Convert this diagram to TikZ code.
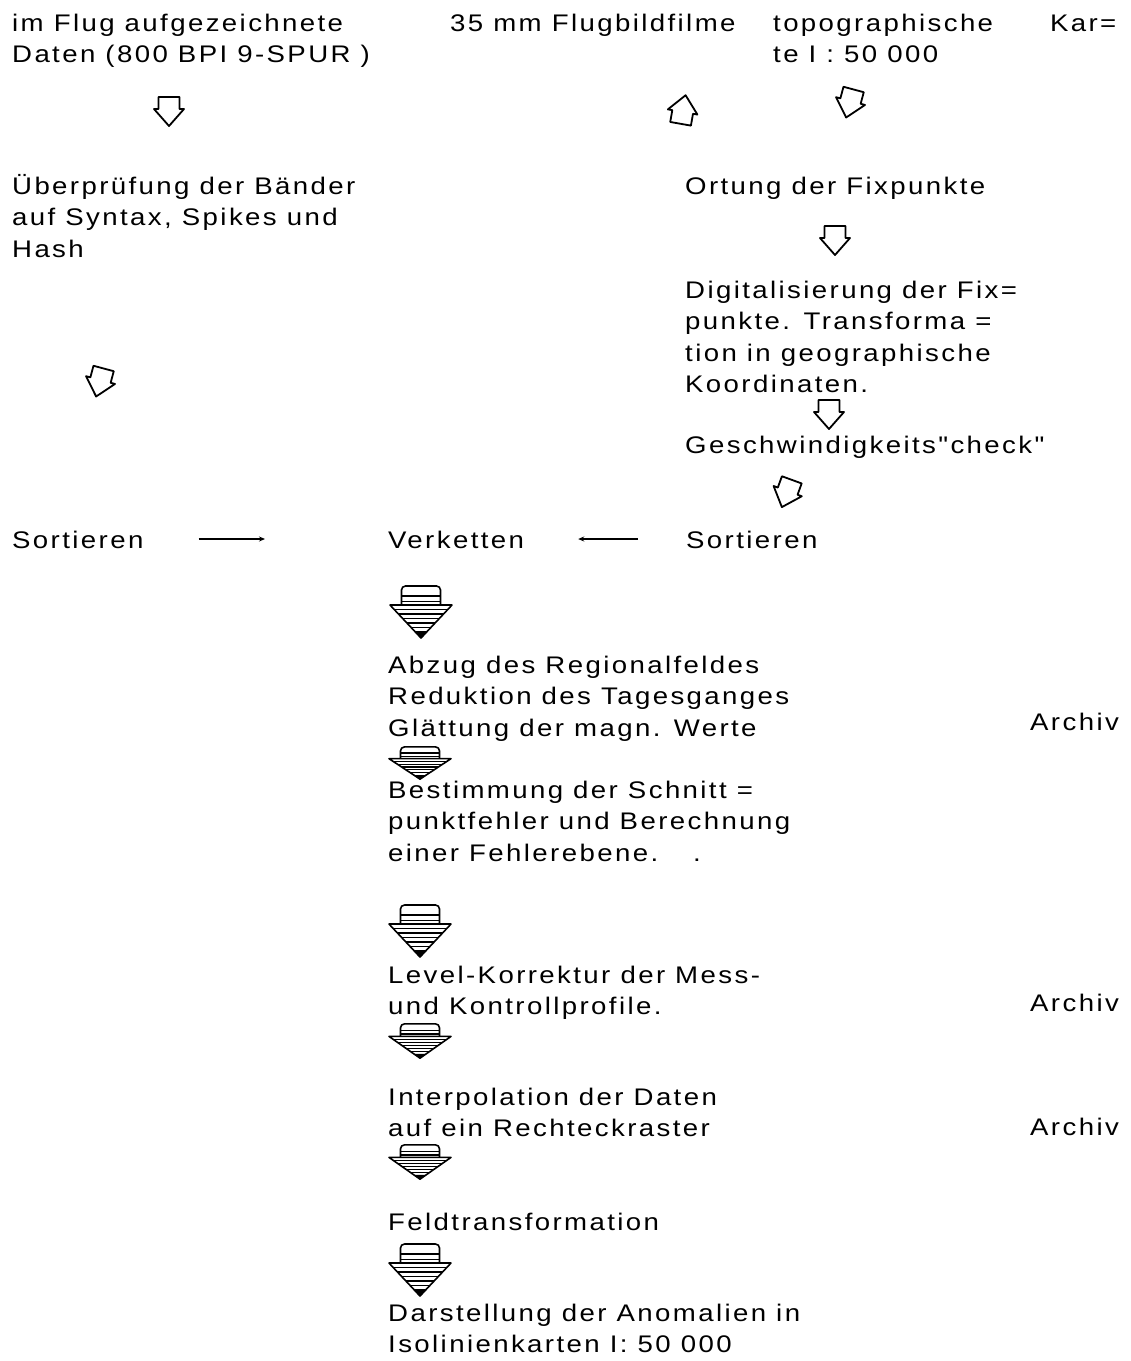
\documentclass[tikz,border=0pt]{standalone}
\usepackage{fontspec}
\usetikzlibrary{arrows.meta}
\newfontfamily\lettering[LetterSpace=10,FakeStretch=1.15]{Liberation Sans}
\newcommand\fstrut{\rule{0pt}{23pt}}
\begin{document}
\begin{tikzpicture}[x=1pt,y=-1pt,
  txt/.style={font={\lettering\fontsize{24}{31.5}\selectfont}, inner sep=0pt, anchor=north west, align=left},
  lbl/.style={font={\lettering\fontsize{24}{31.5}\selectfont}, inner sep=0pt, anchor=base west},
  conn/.style={line width=1.8pt, -{Stealth[length=6pt,width=5pt]}},
  hollow/.pic={\draw[line width=1.8pt, line join=round] (-10.5,-14) -- (10.5,-14) -- (10.5,-2) -- (15,-2) -- (0,15) -- (-15,-2) -- (-10.5,-2) -- cycle;},
  stripes/.pic={
    \draw[line width=1.6pt, rounded corners=4pt] (-19.5,-7) -- (-19.5,-26) -- (19.5,-26) -- (19.5,-7);
    \draw[line width=1.2pt] (-19.5,-16) -- (19.5,-16) (-19.5,-10.5) -- (19.5,-10.5);
    \begin{scope}
      \clip (-31,-7) -- (31,-7) -- (0,26) -- cycle;
      \foreach \yy in {-2.5,2,...,25} \draw[line width=1.2pt] (-32,\yy) -- (32,\yy);
    \end{scope}
    \fill (-6,19.5) -- (6,19.5) -- (0,26) -- cycle;
    \draw[line width=1.6pt, line join=round] (-31,-7) -- (31,-7) -- (0,26) -- cycle;
  }
]
\fill[white] (0,0) rectangle (1131,1361);
\useasboundingbox (0,0) rectangle (1131,1361);

% top row
\node[txt] (top1) at (12,8) {\fstrut im Flug aufgezeichnete\\Daten (800 BPI 9-SPUR )};
\node[lbl] (top2) at (450,31) {35 mm Flugbildfilme};
\node[txt] (top3) at (773,8) {\fstrut topographische\hspace{57pt}Kar=\\te I : 50 000};

\pic at (169,111) {hollow};
\pic[rotate=170] at (683,110) {hollow};
\pic[rotate=-15] at (850,103) {hollow};

% left column
\node[txt] (check) at (12,171) {\fstrut Überprüfung der Bänder\\auf Syntax, Spikes und\\Hash};
\pic[rotate=-15] at (100,382) {hollow};

% right column
\node[lbl] (ortung) at (685,194) {Ortung der Fixpunkte};
\pic at (835,240) {hollow};
\node[txt] (digit) at (685,275) {\fstrut Digitalisierung der Fix=\\punkte. Transforma =\\tion in geographische\\Koordinaten.};
\pic at (829,414) {hollow};
\node[lbl] (gesch) at (685,453) {Geschwindigkeits"check"};
\pic[rotate=-20] at (787,493) {hollow};

% sorting row
\node[lbl] (sortL) at (12,548) {Sortieren};
\node[lbl] (verk) at (388,548) {Verketten};
\node[lbl] (sortR) at (686,548) {Sortieren};
\draw[conn, shorten <=55pt, shorten >=123pt] ([yshift=9pt]sortL.base east) -- ([yshift=9pt]verk.base west);
\draw[conn, shorten <=48pt, shorten >=54pt] ([yshift=9pt]sortR.base west) -- ([yshift=9pt]verk.base east);

% main column
\pic at (421,612) {stripes};
\node[txt] (abzug) at (388,650) {\fstrut Abzug des Regionalfeldes\\Reduktion des Tagesganges\\Glättung der magn. Werte};
\node[lbl] (archiv1) at (1030,730) {Archiv};
\pic[yscale=0.62] at (420,763) {stripes};
\node[txt] (bestimm) at (388,775) {\fstrut Bestimmung der Schnitt =\\punktfehler und Berechnung\\einer Fehlerebene.\hspace{35pt}.};
\pic at (420,931) {stripes};
\node[txt] (level) at (388,960) {\fstrut Level-Korrektur der Mess-\\und Kontrollprofile.};
\node[lbl] (archiv2) at (1030,1011) {Archiv};
\pic[yscale=0.66] at (420,1041) {stripes};
\node[txt] (interp) at (388,1082) {\fstrut Interpolation der Daten\\auf ein Rechteckraster};
\node[lbl] (archiv3) at (1030,1135) {Archiv};
\pic[yscale=0.66] at (420,1162) {stripes};
\node[lbl] (feld) at (388,1230) {Feldtransformation};
\pic at (420,1270) {stripes};
\node[txt] (darst) at (388,1298) {\fstrut Darstellung der Anomalien in\\Isolinienkarten I: 50 000};
\end{tikzpicture}
\end{document}
